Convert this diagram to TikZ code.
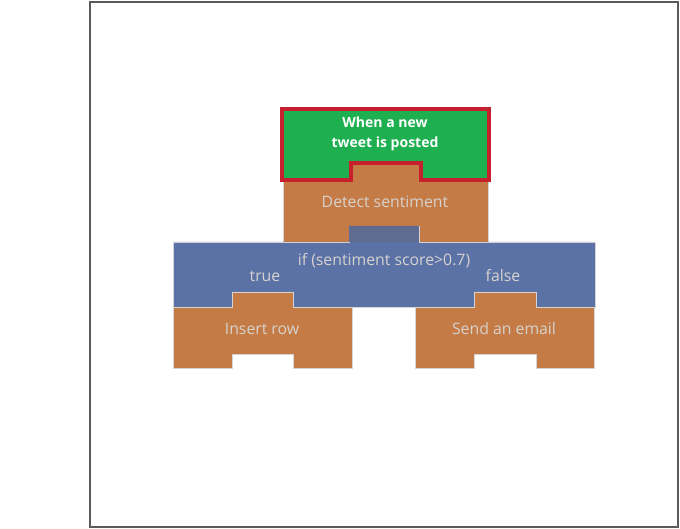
\documentclass[tikz,border=0pt]{standalone}
\usepackage{fontspec}
\setmainfont{Open Sans}
\usepackage{xcolor}
\usepackage{tikz}
\usetikzlibrary{positioning}

\definecolor{blockorange}{HTML}{C47B45}
\definecolor{blockblue}{HTML}{5A72A6}
\definecolor{tabblue}{HTML}{5F6B90}
\definecolor{triggergreen}{HTML}{1EB050}
\definecolor{triggerred}{HTML}{C6202E}
\definecolor{blockedge}{HTML}{D4D4D4}
\definecolor{labelgray}{HTML}{D6D2CE}
\definecolor{framegray}{HTML}{5A5A5A}

\tikzset{
	block/.style={draw=blockedge, line width=0.8pt},
	blocklabel/.style={text=labelgray, font=\fontsize{15.8}{18}\selectfont, inner sep=0pt},
	triggerlabel/.style={text=white, font=\fontsize{14}{19.5}\selectfont\bfseries, align=center, inner sep=0pt}
}

\begin{document}
\begin{tikzpicture}[x=1pt, y=-1pt]
				\useasboundingbox (0,0) rectangle (680,529);
				\draw [framegray, line width=2pt] (90,2) rectangle (678,527);
				
				% detect sentiment
				\path [block, fill=blockorange] (283,181) -- (350,181) -- (350,162) -- (420,162) -- (420,181) -- (488,181) -- (488,242) -- (419,242) -- (419,226) -- (349,226) -- (349,242) -- (283,242) -- cycle;
				
				% condition
				\path [block, fill=blockblue] (173,242) -- (349,242) -- (349,226) -- (419,226) -- (419,242) -- (595,242) -- (595,307) -- (173,307) -- cycle;
				\fill [tabblue] (349.4,226.4) rectangle (418.6,242.4);
				
				% actions
				\path [block, fill=blockorange] (173,307) -- (232,307) -- (232,292) -- (293,292) -- (293,307) -- (352,307) -- (352,368) -- (293,368) -- (293,354) -- (232,354) -- (232,368) -- (173,368) -- cycle;
				\path [block, fill=blockorange] (415,307) -- (474,307) -- (474,292) -- (536,292) -- (536,307) -- (594,307) -- (594,368) -- (536,368) -- (536,354) -- (474,354) -- (474,368) -- (415,368) -- cycle;
				
				% trigger
				\path [draw=triggerred, line width=3.5pt, fill=triggergreen] (282,109) -- (489,109) -- (489,180) -- (421,180) -- (421,163) -- (351,163) -- (351,180) -- (282,180) -- cycle;
				
				\node [triggerlabel] (trigger) at (385,134) {When a new\\tweet is posted};
				\node [blocklabel] (detect) at (385,202) {Detect sentiment};
				\node [blocklabel] (condition) at (384,261) {if (sentiment score>0.7)};
				\node [blocklabel] (yes) at (265,276) {true};
				\node [blocklabel] (no) at (503,276) {false};
				\node [blocklabel] (insert) at (262,329) {Insert row};
				\node [blocklabel] (email) at (504,329) {Send an email};
\end{tikzpicture}
\end{document}
